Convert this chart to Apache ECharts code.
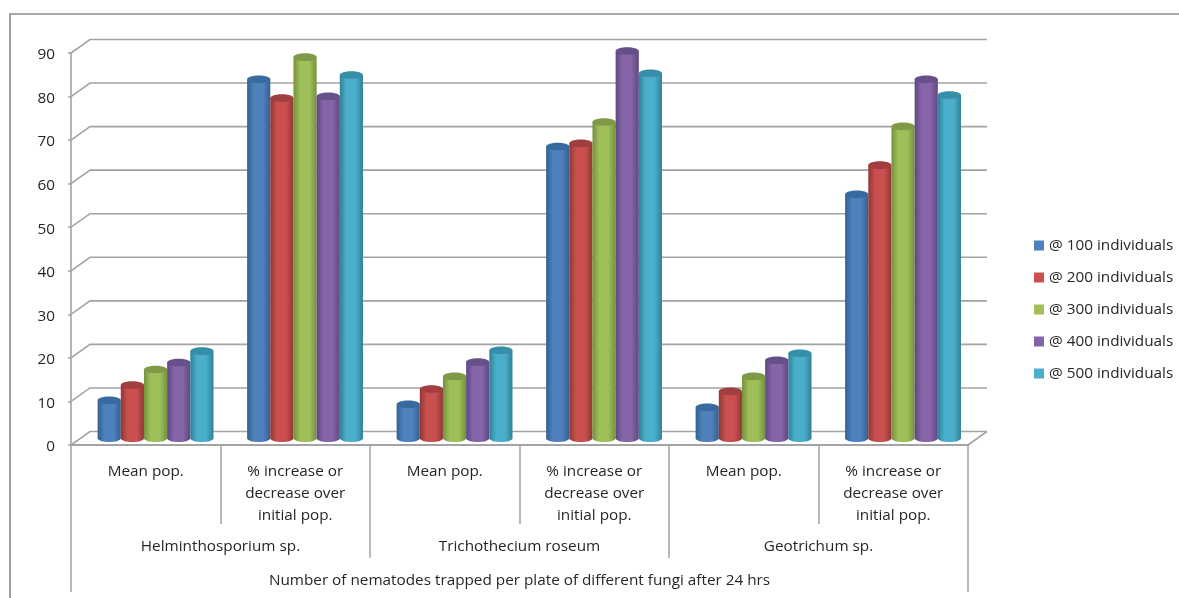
<!DOCTYPE html>
<html>
<head>
<meta charset="utf-8">
<title>Nematodes trapped per plate</title>
<script src="https://cdn.jsdelivr.net/npm/echarts@6/dist/echarts.min.js"></script>
<style>
html, body { margin: 0; padding: 0; background: #fff; }
#chart { width: 1179px; height: 598px; }
</style>
</head>
<body>
<div id="chart"></div>
<script>
const treatments = ['Mean pop.', '% increase or\ndecrease over\ninitial pop.', 'Mean pop.', '% increase or\ndecrease over\ninitial pop.', 'Mean pop.', '% increase or\ndecrease over\ninitial pop.']
const fungi = ['Helminthosporium sp.', 'Trichothecium roseum', 'Geotrichum sp.']
const axisTitle = ['Number of nematodes trapped per plate of different fungi after 24 hrs']
const ticks = [0, 10, 20, 30, 40, 50, 60, 70, 80, 90]

const seriesNames = ['@ 100 individuals', '@ 200 individuals', '@ 300 individuals', '@ 400 individuals', '@ 500 individuals']
const at100 = [8.7, 82.4, 7.8, 67.0, 7.1, 56.0]
const at200 = [12.2, 78.1, 11.3, 67.7, 10.8, 62.7]
const at300 = [15.8, 87.5, 14.2, 72.6, 14.2, 71.6]
const at400 = [17.4, 78.5, 17.5, 88.9, 17.9, 82.4]
const at500 = [20.0, 83.4, 20.2, 83.8, 19.5, 78.8]
const allValues = [at100, at200, at300, at400, at500]

const colors = ['#4f81bd', '#c9504f', '#9fc059', '#8565a8', '#4bafcb']
const edges = ['#34608f', '#913735', '#76913f', '#5e4780', '#2f8197']
const tops = ['#376a9e', '#a03f3d', '#7f9a47', '#67508a', '#368ea8']

const textColor = '#262626'
const lineColor = '#a3a3a3'
const fontName = 'Open Sans'

// 3d look: depth of the walls, bars stand half way in
const wallX = 19
const wallY = 13.5
const ry = 3.8

function renderWall (params, api) {
  const v = api.value(0)
  const sys = params.coordSys
  const y = api.coord([0, v])[1]
  const x0 = sys.x
  const x1 = sys.x + sys.width
  const style = { stroke: lineColor, lineWidth: 1.6, fill: 'none' }
  const points = [[x0, y], [x0 + wallX, y - wallY], [x1 + wallX, y - wallY]]
  const children = [{ type: 'polyline', shape: { points: points }, style: style }]
  if (v === 0) {
    children.push({ type: 'polyline', shape: { points: [[x1, y], [x1 + wallX, y - wallY]] }, style: style })
  }
  return { type: 'group', children: children }
}

function renderBar (params, api) {
  const i = params.seriesIndex - 1
  const band = api.size([1, 0])[0]
  const w = band * 0.155
  const p = api.coord([api.value(0), api.value(1)])
  const base = api.coord([api.value(0), 0])
  const cx = p[0] + wallX / 2 + (i - 2) * w + 0.3
  const topY = p[1] - wallY / 2
  const baseY = base[1] - wallY / 2
  const fill = {
    type: 'linear', x: 0, y: 0, x2: 1, y2: 0,
    colorStops: [
      { offset: 0, color: edges[i] },
      { offset: 0.3, color: colors[i] },
      { offset: 0.68, color: colors[i] },
      { offset: 1, color: edges[i] }
    ]
  }
  return {
    type: 'group',
    children: [
      { type: 'ellipse', shape: { cx: cx, cy: baseY, rx: w / 2, ry: ry }, style: { fill: fill } },
      { type: 'rect', shape: { x: cx - w / 2, y: topY, width: w, height: baseY - topY }, style: { fill: fill } },
      { type: 'ellipse', shape: { cx: cx, cy: topY, rx: w / 2, ry: ry }, style: { fill: tops[i] } }
    ]
  }
}

const wallSeries = {
  name: 'walls',
  type: 'custom',
  silent: true,
  z: 1,
  renderItem: renderWall,
  encode: { y: 0 },
  data: ticks.map(t => [t])
}

const barSeries = seriesNames.map((name, i) => ({
  name: name,
  type: 'custom',
  z: 3 + i,
  itemStyle: { color: colors[i] },
  renderItem: renderBar,
  encode: { x: 0, y: 1 },
  data: allValues[i].map((v, k) => [k, v])
}))

const myChart = echarts.init(document.getElementById('chart'), null, { renderer: 'canvas' })
const labelFont = { color: textColor, fontFamily: fontName, fontSize: 15.3, interval: 0 }

myChart.setOption({
  animation: false,
  textStyle: { fontFamily: fontName },
  grid: { left: 71, right: 211, top: 53, bottom: 153, containLabel: false, outerBoundsMode: 'none' },
  legend: {
    orient: 'vertical',
    left: 1029,
    top: 233,
    icon: 'rect',
    itemWidth: 10,
    itemHeight: 10,
    itemGap: 17,
    selectedMode: false,
    data: seriesNames,
    textStyle: { color: textColor, fontFamily: fontName, fontSize: 15.3 }
  },
  xAxis: [
    {
      type: 'category',
      position: 'bottom',
      data: treatments,
      axisLine: { show: true, lineStyle: { color: lineColor, width: 2 } },
      axisTick: { show: true, length: 79, lineStyle: { color: lineColor, width: 1.5 } },
      axisLabel: Object.assign({}, labelFont, { margin: 16, lineHeight: 22, verticalAlign: 'top' })
    },
    {
      type: 'category',
      position: 'bottom',
      offset: 0,
      data: fungi,
      axisLine: { show: false },
      axisTick: { show: true, length: 113, lineStyle: { color: lineColor, width: 1.5 } },
      axisLabel: Object.assign({}, labelFont, { margin: 94, verticalAlign: 'top' })
    },
    {
      type: 'category',
      position: 'bottom',
      offset: 0,
      data: axisTitle,
      axisLine: { show: false },
      axisTick: { show: true, length: 147, lineStyle: { color: lineColor, width: 1.5 } },
      axisLabel: Object.assign({}, labelFont, { margin: 128, verticalAlign: 'top' })
    }
  ],
  yAxis: {
    type: 'value',
    min: 0,
    max: 90,
    interval: 10,
    axisLine: { show: true, lineStyle: { color: lineColor, width: 1.6 } },
    axisTick: { show: true, length: 3, lineStyle: { color: lineColor, width: 1.5 } },
    axisLabel: {
      margin: 16,
      formatter: '{a|{value}}',
      rich: { a: { color: textColor, fontFamily: fontName, fontSize: 15.3, padding: [4, 0, 0, 0] } }
    },
    splitLine: { show: false }
  },
  // frame of the chart area, open on right and bottom like the screenshot
  graphic: [
    {
      type: 'polyline',
      silent: true,
      shape: { points: [[10, 598], [10, 14], [1179, 14]] },
      style: { stroke: '#8a8a8a', lineWidth: 1.6, fill: 'none' }
    }
  ],
  series: [wallSeries].concat(barSeries)
})

window.addEventListener('resize', function () {
  myChart.resize()
})
</script>
</body>
</html>
